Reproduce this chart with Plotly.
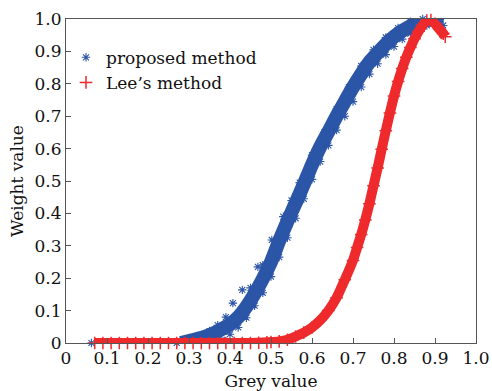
import plotly.graph_objects as go

# ---- data ----
tick_vals = [0, 0.1, 0.2, 0.3, 0.4, 0.5, 0.6, 0.7, 0.8, 0.9, 1.0]
tick_text = ["0", "0.1", "0.2", "0.3", "0.4", "0.5", "0.6", "0.7", "0.8", "0.9", "1.0"]

# proposed method: flat part (mostly hidden under Lee's band)
prop_flat_x = [0.062, 0.27]
prop_flat_y = [0.0, 0.0]

# proposed method: centre of the rising scatter band
prop_x = [0.28, 0.30, 0.32, 0.34, 0.36, 0.38, 0.40, 0.42,
          0.44, 0.46, 0.48, 0.50, 0.52, 0.54, 0.56, 0.58, 0.60, 0.62, 0.64, 0.66, 0.68,
          0.70, 0.72, 0.74, 0.76, 0.78, 0.80, 0.82, 0.84, 0.86, 0.88, 0.90, 0.92]
prop_y = [0.0, 0.006, 0.012, 0.02, 0.03, 0.043, 0.058, 0.08,
          0.112, 0.152, 0.198, 0.25, 0.315, 0.375, 0.432, 0.49, 0.55, 0.605, 0.652, 0.70, 0.745,
          0.79, 0.83, 0.867, 0.895, 0.922, 0.945, 0.963, 0.978, 0.99, 0.997, 0.997, 0.99]

# proposed method: points along the upper-left edge of the band
prop_up_x = [0.30, 0.32, 0.35, 0.37, 0.39, 0.407, 0.43, 0.45, 0.468, 0.48, 0.502, 0.53, 0.55,
             0.57, 0.60, 0.63, 0.66, 0.69, 0.72, 0.75, 0.78, 0.81, 0.84, 0.87]
prop_up_y = [0.013, 0.022, 0.037, 0.055, 0.08, 0.123, 0.164, 0.17, 0.235, 0.24, 0.318, 0.39, 0.44,
             0.495, 0.58, 0.65, 0.722, 0.79, 0.855, 0.905, 0.943, 0.972, 0.992, 1.0]

# proposed method: points along the lower-right edge of the band
prop_lo_x = [0.38, 0.40, 0.42, 0.44, 0.46, 0.48, 0.50, 0.52, 0.54, 0.56, 0.58, 0.60, 0.62,
             0.64, 0.66, 0.68, 0.70, 0.72, 0.74, 0.76, 0.78, 0.80, 0.82, 0.84, 0.86, 0.88,
             0.90, 0.92]
prop_lo_y = [0.01, 0.027, 0.048, 0.078, 0.115, 0.155, 0.205, 0.265, 0.325, 0.385, 0.445, 0.505, 0.56,
             0.61, 0.657, 0.70, 0.745, 0.79, 0.83, 0.862, 0.89, 0.915, 0.938, 0.955, 0.97, 0.98,
             0.985, 0.98]

# Lee's method
lee_x = [0.07, 0.09, 0.11, 0.13, 0.15, 0.17, 0.19, 0.21, 0.23, 0.25, 0.27, 0.29, 0.31,
         0.33, 0.35, 0.37, 0.39, 0.41, 0.43, 0.45, 0.47, 0.49, 0.50, 0.52, 0.54, 0.56,
         0.58, 0.60, 0.62, 0.64, 0.66, 0.68, 0.70, 0.71, 0.72, 0.73, 0.74, 0.75, 0.76,
         0.77, 0.78, 0.79, 0.80, 0.81, 0.82, 0.83, 0.84, 0.85, 0.86, 0.87, 0.88, 0.89,
         0.90, 0.91, 0.92, 0.925]
lee_y = [0.0, 0.0, 0.0, 0.0, 0.0, 0.0, 0.0, 0.0, 0.0, 0.0, 0.0, 0.0, 0.0,
         0.0, 0.0, 0.0, 0.0, 0.0, 0.0, 0.0, 0.001, 0.002, 0.003, 0.005, 0.01, 0.02,
         0.032, 0.048, 0.07, 0.10, 0.14, 0.195, 0.255, 0.295, 0.335, 0.38, 0.43, 0.485, 0.54,
         0.598, 0.655, 0.71, 0.762, 0.807, 0.847, 0.882, 0.912, 0.939, 0.962, 0.981, 0.995, 0.997,
         0.985, 0.97, 0.955, 0.945]

BLUE = "#2b55a6"
RED = "#ee2a2c"
FONT = "DejaVu Serif"

fig = go.Figure()

fig.add_trace(go.Scatter(x=prop_x, y=prop_y, mode="lines", showlegend=False,
                         line=dict(color=BLUE, width=14, shape="spline", smoothing=0.6),
                         hoverinfo="skip", cliponaxis=False))
fig.add_trace(go.Scatter(x=prop_flat_x + prop_up_x + prop_lo_x,
                         y=prop_flat_y + prop_up_y + prop_lo_y,
                         mode="markers", name="proposed method",
                         marker=dict(symbol="asterisk-open", size=7, color=BLUE,
                                     line=dict(color=BLUE, width=1.1)),
                         cliponaxis=False))
fig.add_trace(go.Scatter(x=lee_x, y=lee_y, mode="lines", showlegend=False,
                         line=dict(color=RED, width=10, shape="spline", smoothing=0.6),
                         hoverinfo="skip", cliponaxis=False))
fig.add_trace(go.Scatter(x=lee_x, y=lee_y, mode="markers", name="Lee\u2019s method",
                         marker=dict(symbol="cross-thin-open", size=9, color=RED,
                                     line=dict(color=RED, width=1.5)),
                         cliponaxis=False))

axis_common = dict(range=[0, 1], tickvals=tick_vals, ticktext=tick_text, automargin=False,
                   showgrid=False, zeroline=False, showline=True, linecolor="#555",
                   linewidth=1, mirror=True, ticks="inside", ticklen=5, tickcolor="#555",
                   tickfont=dict(family=FONT, size=17, color="#111"))

fig.update_xaxes(**axis_common,
                 title=dict(text="Grey value", font=dict(family=FONT, size=17, color="#111"),
                            standoff=8))
fig.update_yaxes(**axis_common,
                 title=dict(text="Weight value", font=dict(family=FONT, size=17, color="#111"),
                            standoff=6))

fig.update_layout(
    width=492, height=391,
    margin=dict(l=66, r=16, t=19, b=48),
    paper_bgcolor="white", plot_bgcolor="white",
    font=dict(family=FONT, size=17, color="#111"),
    legend=dict(x=0.0, y=0.936, xanchor="left", yanchor="top",
                bgcolor="rgba(0,0,0,0)", font=dict(family=FONT, size=17, color="#111"),
                tracegroupgap=0),
)

fig.write_html("out.html")
